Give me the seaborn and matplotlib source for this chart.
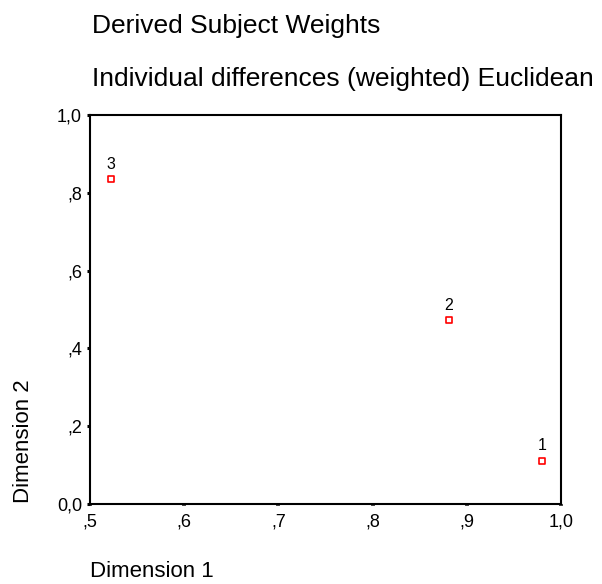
import matplotlib
matplotlib.use('Agg')
import matplotlib.pyplot as plt
import seaborn as sns
import pandas as pd
from matplotlib.ticker import FuncFormatter

# derived subject weights (dimension 1, dimension 2)
subjects = ['1', '2', '3']
dim1 = [0.980, 0.881, 0.522]
dim2 = [0.111, 0.473, 0.835]
xticks = [0.5, 0.6, 0.7, 0.8, 0.9, 1.0]
yticks = [0.0, 0.2, 0.4, 0.6, 0.8, 1.0]

sns.set_style('white')
plt.rcParams['font.family'] = ['Liberation Sans', 'DejaVu Sans']
plt.rcParams['text.color'] = 'black'
plt.rcParams['xtick.color'] = 'black'
plt.rcParams['ytick.color'] = 'black'

df = pd.DataFrame({'Dimension 1': dim1, 'Dimension 2': dim2, 'subject': subjects})


def comma_fmt(v, pos):
    s = '%.1f' % v
    if s.startswith('0.') and v != 0:
        s = s[1:]
    return s.replace('.', ',')


fig = plt.figure(figsize=(6.02, 5.84), dpi=100)
ax = fig.add_axes([90 / 602, 1 - 504 / 584, 471 / 602, 389 / 584])

sns.scatterplot(data=df, x='Dimension 1', y='Dimension 2', ax=ax, marker='s', s=17,
                facecolor='white', edgecolor='#ff0000', linewidth=1.2, legend=False)
for xi, yi, lab in zip(dim1, dim2, subjects):
    ax.annotate(lab, (xi, yi), xytext=(0, 7.5), textcoords='offset points',
                ha='center', va='baseline', fontsize=11.5)

ax.set_xlim(0.5, 1.0)
ax.set_ylim(0.0, 1.0)
ax.set_xticks(xticks)
ax.set_yticks(yticks)
ax.xaxis.set_major_formatter(FuncFormatter(comma_fmt))
ax.yaxis.set_major_formatter(FuncFormatter(comma_fmt))
ax.tick_params(axis='y', direction='out', length=2.3, width=2.2, color='black',
               labelcolor='black', labelsize=13, pad=3.5)
ax.tick_params(axis='x', direction='out', length=1.6, width=2.8, color='#444444',
               labelcolor='black', labelsize=13, pad=5)
ax.tick_params(left=True, bottom=True)
for sp in ax.spines.values():
    sp.set_color('black')
    sp.set_linewidth(1.5)

ax.set_xlabel('')
ax.set_ylabel('')
fig.text(92 / 602, 1 - 33 / 584, 'Derived Subject Weights', fontsize=19,
         va='baseline', ha='left')
fig.text(92 / 602, 1 - 86 / 584, 'Individual differences (weighted) Euclidean', fontsize=19,
         va='baseline', ha='left')
fig.text(90 / 602, 1 - 577 / 584, 'Dimension 1', fontsize=16, va='baseline', ha='left')
fig.text(13 / 602, 1 - 503 / 584, 'Dimension 2', fontsize=16, va='bottom', ha='left',
         rotation=90)

fig.savefig('out.png', dpi=100)
